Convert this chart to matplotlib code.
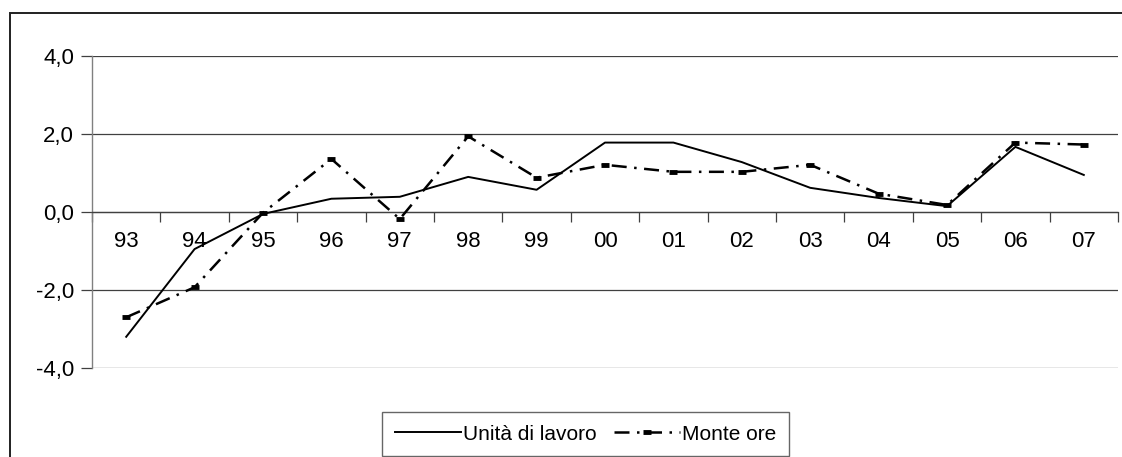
import matplotlib
matplotlib.use('Agg')
import matplotlib.pyplot as plt
from matplotlib.patches import Rectangle
from matplotlib.ticker import FixedLocator, NullFormatter, FixedFormatter

plt.rcParams['font.family'] = ['Liberation Sans', 'DejaVu Sans']

# data
years = ['93', '94', '95', '96', '97', '98', '99', '00', '01', '02', '03', '04', '05', '06', '07']
unita_lavoro = [-3.2, -0.95, -0.05, 0.34, 0.39, 0.90, 0.57, 1.78, 1.78, 1.28, 0.62, 0.36, 0.15, 1.67, 0.95]
monte_ore = [-2.7, -1.93, -0.02, 1.36, -0.18, 1.94, 0.88, 1.21, 1.03, 1.03, 1.21, 0.47, 0.18, 1.78, 1.73]
yticks = [-4, -2, 0, 2, 4]

W, H = 1122, 457
fig = plt.figure(figsize=(W / 100, H / 100), dpi=100, facecolor='white')
ax = fig.add_axes([92 / W, 1 - 368 / H, (1118 - 92) / W, (368 - 56) / H])

xpos = [i + 0.5 for i in range(len(years))]

# gridlines
for v in yticks:
    ax.axhline(v, color='#404040', lw=0.9, zorder=1)

ax.plot(xpos, unita_lavoro, color='black', lw=1.4, label='Unità di lavoro', zorder=3)
ax.plot(xpos, monte_ore, color='black', lw=1.8, linestyle=(0, (6, 3, 1, 3)),
        marker='_', markersize=6, markeredgewidth=3.5, label='Monte ore', zorder=4)

ax.set_xlim(0, len(years))
ax.set_ylim(-4, 4)

# category axis crossing at zero
ax.spines['top'].set_visible(False)
ax.spines['right'].set_visible(False)
ax.spines['bottom'].set_position(('data', 0))
ax.spines['bottom'].set_color('#404040')
ax.spines['bottom'].set_linewidth(0.9)
ax.spines['left'].set_color('#808080')
ax.spines['left'].set_linewidth(1.0)

ax.xaxis.set_major_locator(FixedLocator(list(range(len(years) + 1))))
ax.xaxis.set_major_formatter(NullFormatter())
ax.xaxis.set_minor_locator(FixedLocator(xpos))
ax.xaxis.set_minor_formatter(FixedFormatter(years))
ax.tick_params(axis='x', which='major', direction='out', length=7, width=0.9, color='#404040')
ax.tick_params(axis='x', which='minor', length=0, pad=14, labelsize=16)

ax.set_yticks(yticks)
ax.set_yticklabels([('%.1f' % v).replace('.', ',') for v in yticks])
ax.tick_params(axis='y', direction='out', length=8, width=0.9, color='#404040', pad=5, labelsize=16)

# outer chart frame
fig.patches.append(Rectangle((10 / W, -0.2), 1.2, 1 - 13 / H + 0.2, transform=fig.transFigure,
                             fill=False, edgecolor='#202020', lw=1.4))

leg = fig.legend(loc='upper left', bbox_to_anchor=(382 / W, 1 - 412 / H), ncol=2,
                 fontsize=15, handlelength=3.2, columnspacing=0.8, handletextpad=0.1,
                 borderpad=0.6, borderaxespad=0, frameon=True, fancybox=False)
leg.get_frame().set_edgecolor('#404040')
leg.get_frame().set_linewidth(1.0)

fig.savefig('out.png', dpi=100, facecolor='white')
